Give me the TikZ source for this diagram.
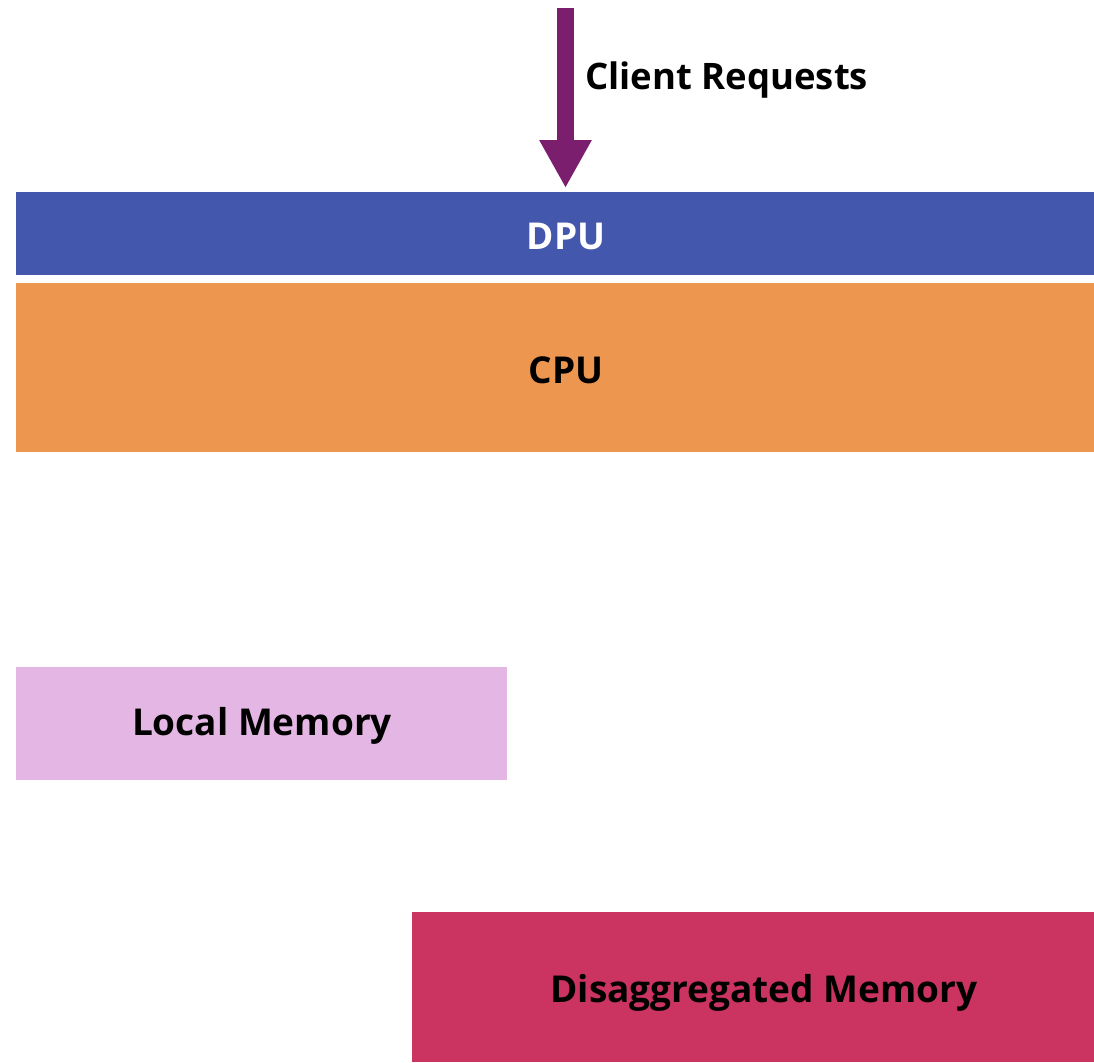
\documentclass[tikz,border=0pt]{standalone}
\usepackage{fontspec}
\setmainfont{Open Sans}
\usetikzlibrary{arrows.meta}
\definecolor{dpublue}{HTML}{4358AC}
\definecolor{cpuorange}{HTML}{ED9650}
\definecolor{lmpink}{HTML}{E4B6E4}
\definecolor{dmred}{HTML}{CB3460}
\definecolor{arrpurple}{HTML}{7B1E6E}
\begin{document}
\begin{tikzpicture}[x=1pt,y=-1pt,
  blk/.style={draw=none,inner sep=0pt,font=\fontsize{37}{44}\selectfont\bfseries},
  lbl/.style={font=\fontsize{36.5}{44}\selectfont\bfseries,inner sep=0pt}]
\useasboundingbox (0,0) rectangle (1094,1062);
\fill[dpublue] (16,192) rectangle (1094,275);
\node[blk,text=white] (dpu) at (566,236) {DPU};
\fill[cpuorange] (16,283) rectangle (1094,452);
\node[blk] (cpu) at (566,370) {CPU};
\fill[lmpink] (16,667) rectangle (507,780);
\node[blk] (lm) at (262,726) {Local Memory};
\fill[dmred] (412,912) rectangle (1094,1062);
\node[blk] (dm) at (764,993) {Disaggregated Memory};
\coordinate (top) at (565.5,8);
\coordinate (tip) at (565.5,188);
\draw[arrpurple,line width=17pt,-{Triangle[width=49pt,length=48pt]}] (top) -- (tip);
\node[lbl,anchor=west] (cr) at (585,80) {Client Requests};
\end{tikzpicture}
\end{document}
